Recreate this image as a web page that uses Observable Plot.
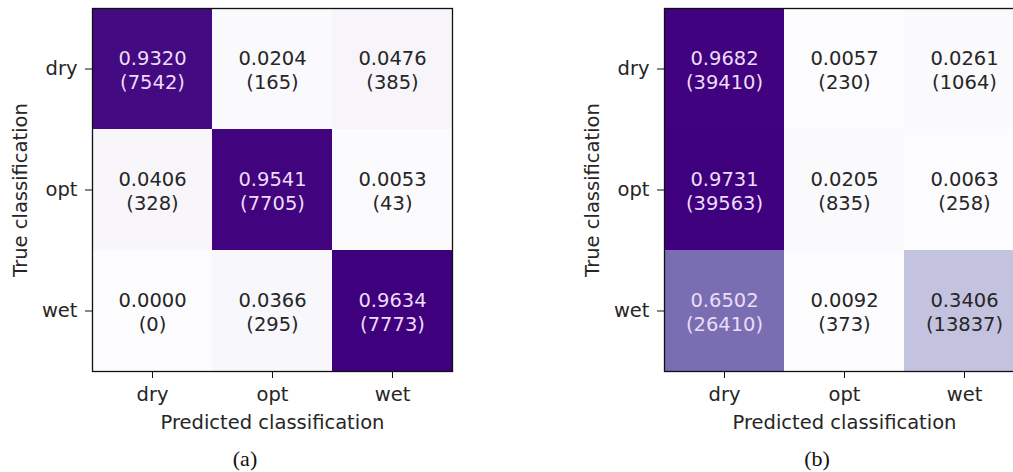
<!DOCTYPE html>
<html>
<head>
<meta charset="utf-8">
<script src="https://cdn.jsdelivr.net/npm/d3@7"></script>
<script src="https://cdn.jsdelivr.net/npm/@observablehq/plot@0.6"></script>
<style>
  html, body { margin: 0; padding: 0; background: #fff; }
  #wrap { position: relative; width: 1013px; height: 472px; overflow: hidden; background: #fff; }
  .panel { position: absolute; top: 0; }
  .cap { position: absolute; font-family: "Liberation Serif", serif; font-size: 22px; color: #111; transform: translate(-50%, -50%); white-space: nowrap; }
</style>
</head>
<body>
<div id="wrap"></div>
<script>
const categories = ["dry", "opt", "wet"];
const xLabel = "Predicted classification";
const yLabel = "True classification";

// rows = true class, columns = predicted class
const ratiosA = [
  [0.9320, 0.0204, 0.0476],
  [0.0406, 0.9541, 0.0053],
  [0.0000, 0.0366, 0.9634]
];
const countsA = [
  [7542, 165, 385],
  [328, 7705, 43],
  [0, 295, 7773]
];
const ratiosB = [
  [0.9682, 0.0057, 0.0261],
  [0.9731, 0.0205, 0.0063],
  [0.6502, 0.0092, 0.3406]
];
const countsB = [
  [39410, 230, 1064],
  [39563, 835, 258],
  [26410, 373, 13837]
];
const captions = ["(a)", "(b)"];

function table(ratios, counts) {
  const rows = [];
  categories.forEach((t, i) => categories.forEach((p, j) => {
    rows.push({ truth: t, pred: p, value: ratios[i][j], count: counts[i][j] });
  }));
  return rows;
}

function matrix(ratios, counts) {
  const data = table(ratios, counts);
  const [lo, hi] = d3.extent(data, d => d.value);
  const mid = (lo + hi) / 2;
  return Plot.plot({
    width: 472,
    height: 440,
    marginLeft: 92,
    marginRight: 20,
    marginTop: 8,
    marginBottom: 69,
    style: { fontFamily: "DejaVu Sans, sans-serif", fontSize: "19.5px", color: "#262626", background: "#fff" },
    x: { type: "band", domain: categories, padding: 0, axis: null },
    y: { type: "band", domain: categories, padding: 0, axis: null },
    color: { type: "linear", scheme: "purples", domain: [lo, hi] },
    marks: [
      Plot.cell(data, { x: "pred", y: "truth", fill: "value", inset: 0 }),
      Plot.text(data, {
        x: "pred", y: "truth",
        text: d => `${d.value.toFixed(4)}\n(${d.count})`,
        lineHeight: 1.25,
        fontSize: 19.5,
        fill: d => d.value > mid ? "#ecdcf8" : "#262626"
      }),
      Plot.frame({ stroke: "#111", strokeWidth: 1.3 }),
      Plot.axisX({ anchor: "bottom", tickSize: 7, tickPadding: 9, label: xLabel, labelAnchor: "center", labelOffset: 57, stroke: "#111" }),
      Plot.axisY({ anchor: "left", tickSize: 7, tickPadding: 8, label: yLabel, labelAnchor: "center", labelOffset: 79, stroke: "#111" })
    ]
  });
}

const wrap = document.getElementById("wrap");
const pA = matrix(ratiosA, countsA);
pA.classList.add("panel");
pA.style.left = "0px";
wrap.appendChild(pA);
const pB = matrix(ratiosB, countsB);
pB.classList.add("panel");
pB.style.left = "572px";
wrap.appendChild(pB);

[[245, captions[0]], [817, captions[1]]].forEach(([cx, t]) => {
  const d = document.createElement("div");
  d.className = "cap";
  d.style.left = cx + "px";
  d.style.top = "459px";
  d.textContent = t;
  wrap.appendChild(d);
});
</script>
</body>
</html>
